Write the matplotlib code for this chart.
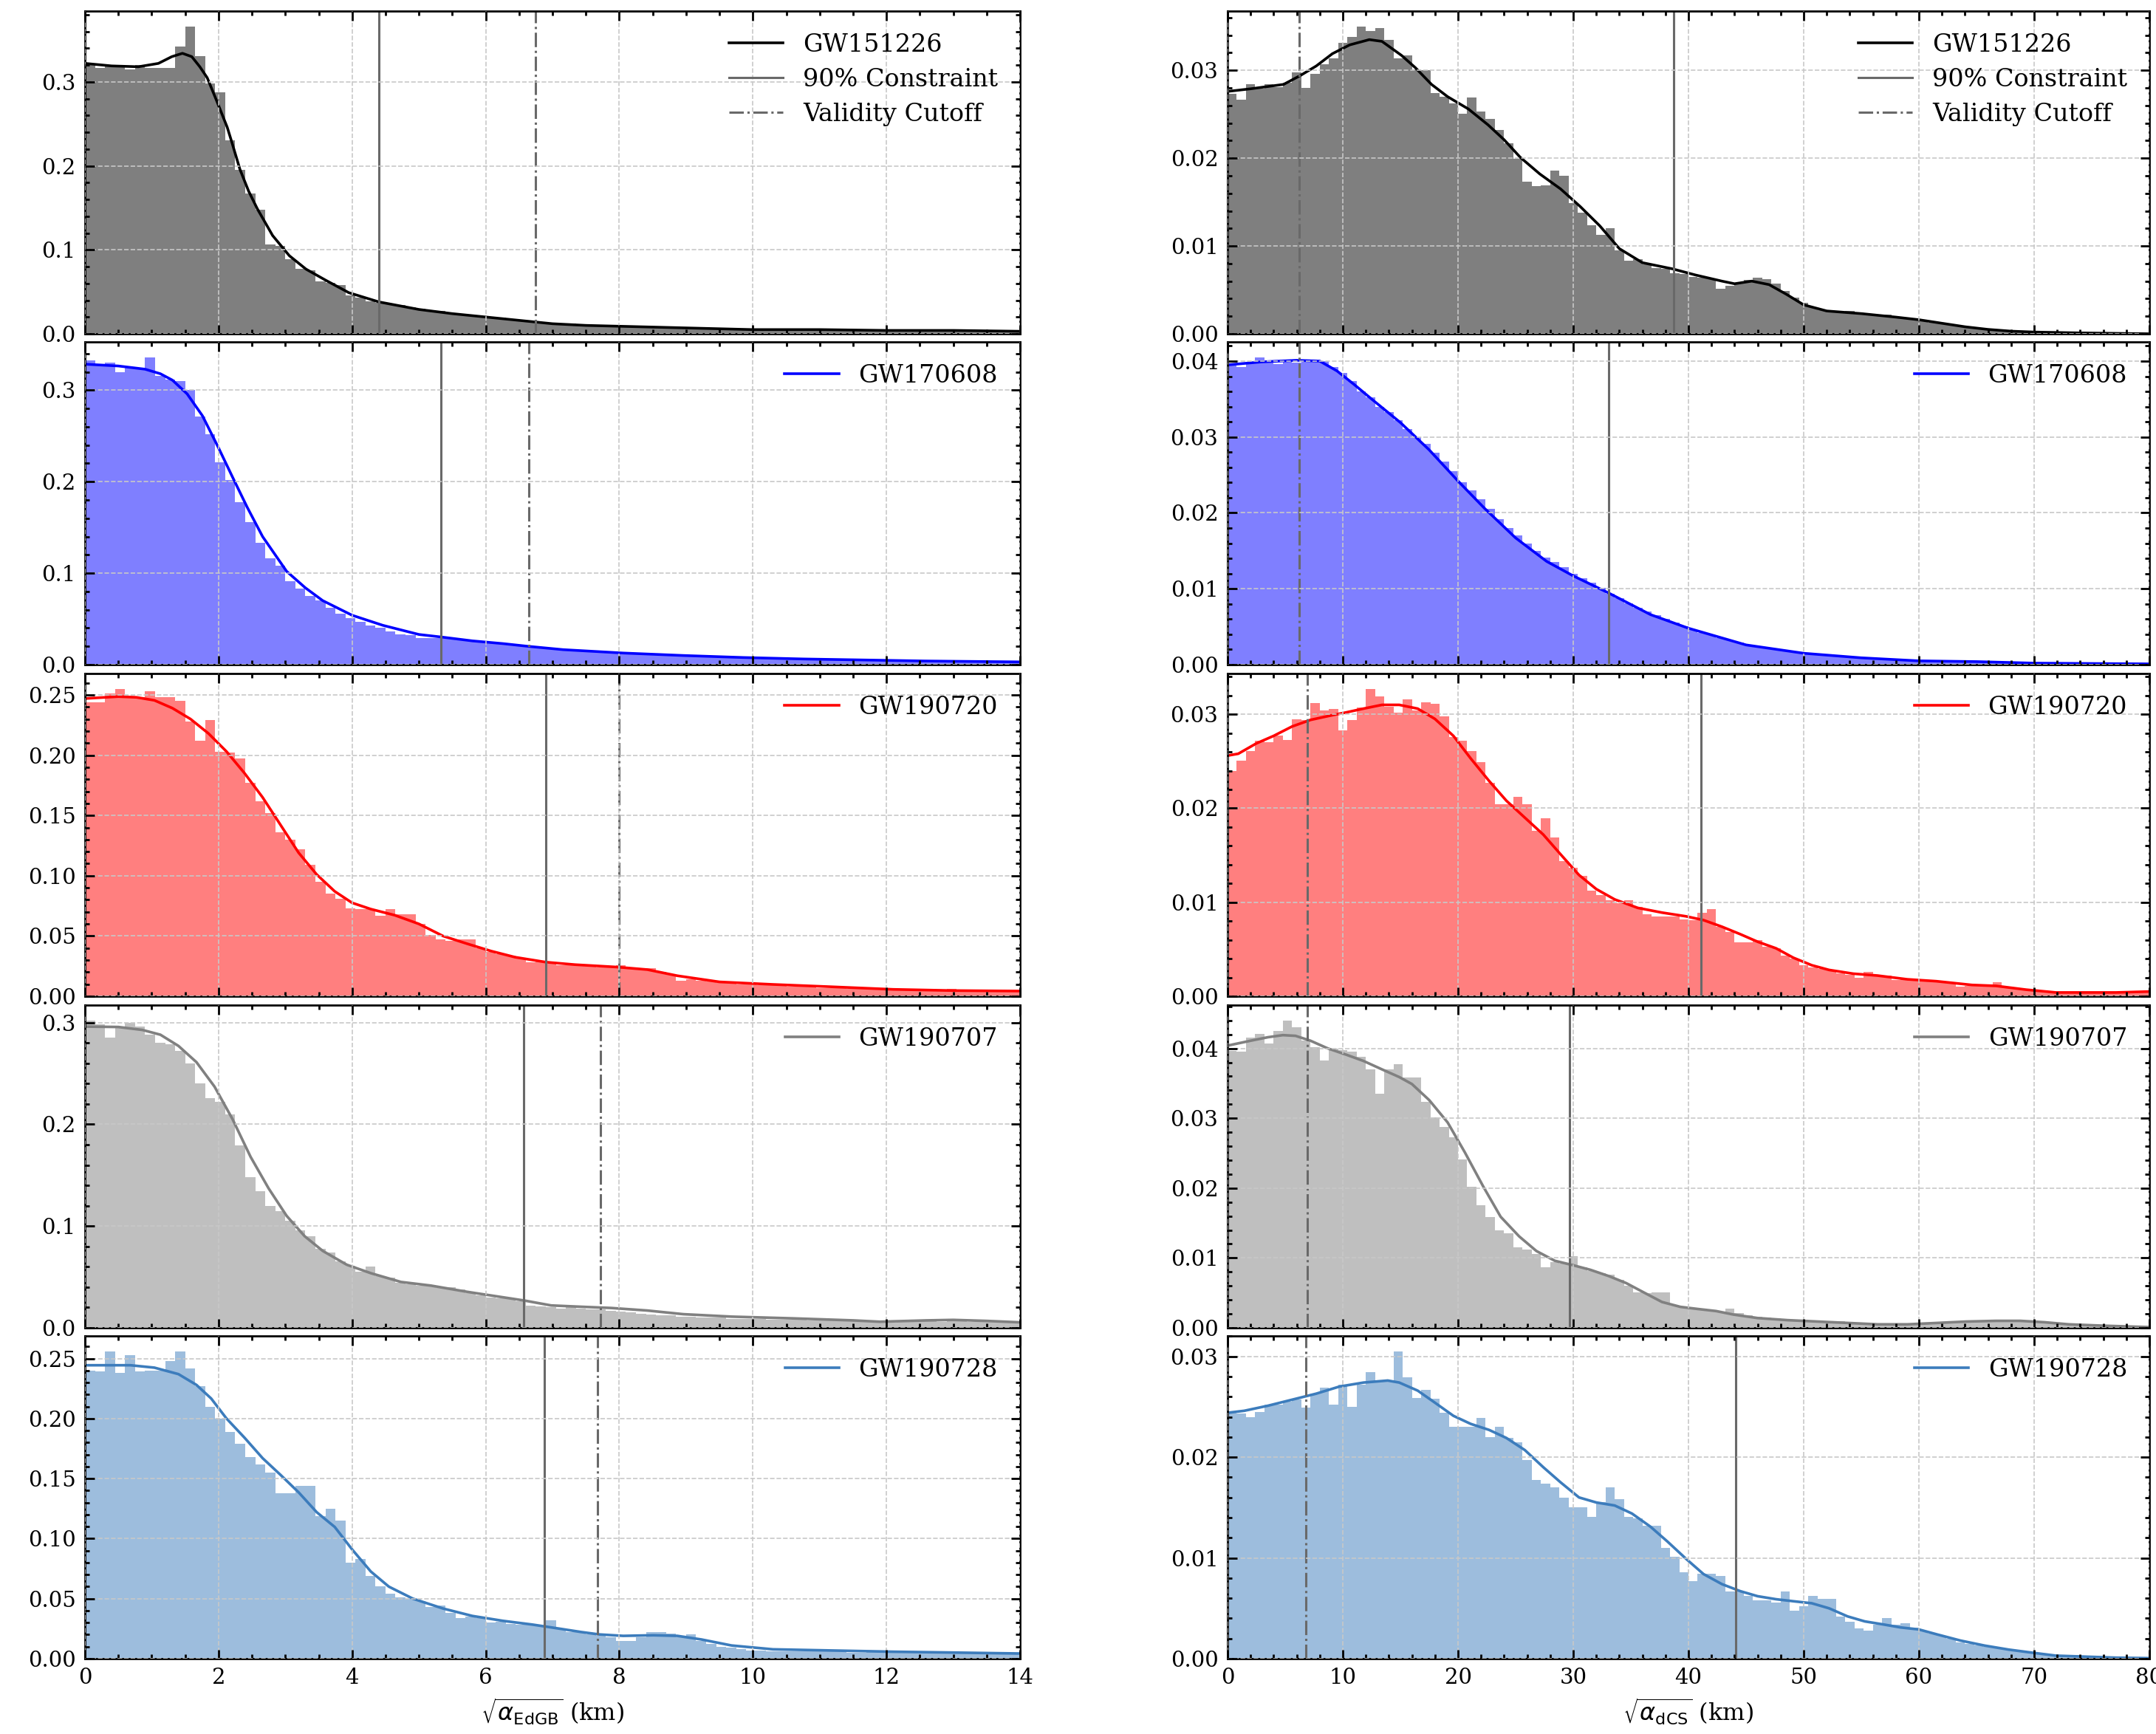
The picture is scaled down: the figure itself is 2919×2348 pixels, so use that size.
import numpy as np
import matplotlib
matplotlib.use("Agg")
import matplotlib.pyplot as plt
from matplotlib.ticker import MultipleLocator, AutoMinorLocator

plt.rcParams['font.family'] = ['DejaVu Serif']
plt.rcParams['mathtext.fontset'] = 'dejavusans'
plt.rcParams['axes.linewidth'] = 1.0

# ---------------- data ----------------
events = ['GW151226', 'GW170608', 'GW190720', 'GW190707', 'GW190728']
line_colors = ['black', 'blue', 'red', 'gray', '#3c7cbc']

edgb_bin_width = 0.15
dcs_bin_width = 0.8

# EdGB histograms (density per bin of width 0.15 km, starting at 0)
edgb_hist_GW151226 = [
    0.321, 0.317, 0.320, 0.320, 0.315, 0.320, 0.317, 0.317, 0.317,
    0.342, 0.366, 0.331, 0.298, 0.288, 0.230, 0.195, 0.167, 0.148, 0.106, 0.105, 0.089,
    0.077, 0.076, 0.062, 0.061, 0.058, 0.046, 0.043, 0.039, 0.037,
    0.035, 0.034, 0.032, 0.030, 0.028, 0.027, 0.025, 0.024, 0.022, 0.021,
    0.020, 0.019, 0.017, 0.016, 0.015, 0.014, 0.013, 0.012, 0.012, 0.011,
    0.010, 0.010, 0.009, 0.009, 0.009, 0.008, 0.008, 0.008, 0.007, 0.007,
    0.007, 0.006, 0.006, 0.006, 0.006, 0.006, 0.005, 0.005, 0.005, 0.005,
    0.005, 0.005, 0.005, 0.004, 0.004, 0.004, 0.004, 0.004, 0.004, 0.004,
    0.004, 0.004, 0.004, 0.003, 0.004, 0.003, 0.003, 0.003, 0.003, 0.003, 0.003, 0.003, 0.003, 0.003]
edgb_hist_GW170608 = [
    0.333, 0.328, 0.330, 0.320, 0.325, 0.323, 0.336, 0.316, 0.312, 0.310, 0.300, 0.271,
    0.252, 0.221, 0.202, 0.178, 0.156, 0.133, 0.116, 0.108, 0.091, 0.083, 0.075, 0.070,
    0.062, 0.056, 0.051, 0.047, 0.043, 0.040, 0.036, 0.033, 0.032, 0.029, 0.029, 0.029,
    0.028, 0.027, 0.026, 0.025,
    0.024, 0.023, 0.022, 0.021, 0.020, 0.019, 0.018, 0.017, 0.016, 0.016,
    0.015, 0.014, 0.014, 0.013, 0.013, 0.012, 0.012, 0.011, 0.011, 0.010,
    0.010, 0.010, 0.009, 0.009, 0.009, 0.008, 0.008, 0.008, 0.007, 0.007,
    0.007, 0.007, 0.006, 0.006, 0.006, 0.006, 0.005, 0.005, 0.005, 0.005,
    0.005, 0.004, 0.004, 0.004, 0.004, 0.004,
    0.004, 0.004, 0.003, 0.003, 0.003, 0.003, 0.003, 0.003]
edgb_hist_GW190720 = [
    0.244, 0.244, 0.251, 0.255, 0.249, 0.248, 0.253, 0.248, 0.248, 0.245,
    0.228, 0.212, 0.229, 0.203, 0.202, 0.197, 0.177, 0.162, 0.152, 0.136,
    0.130, 0.122, 0.109, 0.095, 0.085, 0.081, 0.073, 0.072, 0.072, 0.067,
    0.072, 0.068, 0.068, 0.060, 0.051, 0.047, 0.046, 0.047, 0.047, 0.040,
    0.037, 0.035, 0.034, 0.032, 0.028, 0.029, 0.027, 0.026, 0.026, 0.026,
    0.025, 0.024, 0.024, 0.026, 0.024, 0.022, 0.023, 0.020, 0.018, 0.013,
    0.014, 0.013, 0.012, 0.011, 0.011, 0.010, 0.010, 0.009, 0.009, 0.009,
    0.008, 0.008, 0.008, 0.007, 0.007, 0.007, 0.006, 0.006, 0.006, 0.006,
    0.005, 0.005, 0.005, 0.005, 0.005, 0.005, 0.006, 0.004, 0.004, 0.004, 0.004, 0.004, 0.004, 0.004]
edgb_hist_GW190707 = [
    0.302, 0.298, 0.285, 0.296, 0.300, 0.296, 0.288, 0.280, 0.279, 0.272,
    0.260, 0.240, 0.226, 0.222, 0.210, 0.179, 0.148, 0.134, 0.120, 0.115,
    0.105, 0.096, 0.090, 0.078, 0.074, 0.065, 0.061, 0.055, 0.060, 0.051,
    0.049, 0.044, 0.043, 0.041, 0.041, 0.039, 0.040, 0.038, 0.034, 0.032,
    0.030, 0.029, 0.028, 0.026, 0.022, 0.021, 0.020, 0.019, 0.020, 0.019,
    0.018, 0.018, 0.017, 0.016, 0.015, 0.014, 0.013, 0.012, 0.012, 0.011,
    0.011, 0.010, 0.010, 0.010, 0.009, 0.009, 0.009, 0.009, 0.008, 0.008,
    0.008, 0.008, 0.007, 0.007, 0.007, 0.007, 0.007, 0.006, 0.006, 0.006,
    0.005, 0.006, 0.006, 0.007, 0.007, 0.006, 0.007, 0.007, 0.006, 0.006, 0.006, 0.005, 0.005, 0.005]
edgb_hist_GW190728 = [
    0.240, 0.239, 0.256, 0.238, 0.253, 0.239, 0.240, 0.240, 0.248, 0.256,
    0.242, 0.227, 0.210, 0.200, 0.189, 0.179, 0.168, 0.162, 0.155, 0.138,
    0.138, 0.144, 0.144, 0.119, 0.125, 0.115, 0.080, 0.083, 0.069, 0.060,
    0.054, 0.051, 0.050, 0.048, 0.043, 0.044, 0.038, 0.034, 0.035, 0.034,
    0.030, 0.031, 0.029, 0.028, 0.028, 0.027, 0.032, 0.025, 0.022, 0.022,
    0.020, 0.019, 0.018, 0.015, 0.015, 0.018, 0.022, 0.022, 0.021, 0.018,
    0.020, 0.015, 0.012, 0.010, 0.009, 0.008, 0.007, 0.007, 0.006, 0.006,
    0.006, 0.006, 0.006, 0.006, 0.006, 0.006, 0.005, 0.005, 0.006, 0.006,
    0.005, 0.005, 0.005, 0.005, 0.005, 0.005, 0.005, 0.004, 0.004, 0.004, 0.004, 0.004, 0.004, 0.004]

# dCS histograms (density per bin of width 0.8 km, starting at 0)
dcs_hist_GW151226 = [
    0.0273, 0.0267, 0.0284, 0.0279, 0.0284, 0.0281, 0.0286, 0.0298, 0.0280, 0.0296,
    0.0307, 0.0314, 0.0331, 0.0338, 0.0350, 0.0345, 0.0348, 0.0335, 0.0314, 0.0317,
    0.0301, 0.0300, 0.0274, 0.0270, 0.0262, 0.0251, 0.0269, 0.0253, 0.0245, 0.0232,
    0.0217, 0.0199, 0.0173, 0.0168, 0.0169, 0.0186, 0.0180, 0.0149, 0.0138, 0.0124,
    0.0113, 0.0120, 0.0095, 0.0083, 0.0085, 0.0079, 0.0075, 0.0074, 0.0069, 0.0068,
    0.0065, 0.0064, 0.0062, 0.0051, 0.0055, 0.0058, 0.0061, 0.0064, 0.0062, 0.0057,
    0.0049, 0.0041, 0.0035, 0.0030, 0.0027, 0.0024, 0.0025, 0.0026, 0.0024, 0.0023,
    0.0021, 0.0022, 0.0019, 0.0018, 0.0016, 0.0015, 0.0013, 0.0012, 0.0010, 0.0009,
    0.0008, 0.0006, 0.0005, 0.0004, 0.0004, 0.0003, 0.0003, 0.0002, 0.0002, 0.0002,
    0.0001, 0.0001, 0.0001, 0.0001, 0.0001, 0.0001, 0.0001, 0.0001, 0.0001, 0.0001]
dcs_hist_GW170608 = [
    0.0395, 0.0392, 0.0398, 0.0405, 0.0400, 0.0396, 0.0402, 0.0398, 0.0399, 0.0401,
    0.0400, 0.0392, 0.0384, 0.0374, 0.0360, 0.0352, 0.0340, 0.0333, 0.0322, 0.0310,
    0.0300, 0.0291, 0.0279, 0.0268, 0.0255, 0.0240, 0.0230, 0.0218, 0.0205, 0.0192,
    0.0180, 0.0170, 0.0160, 0.0150, 0.0141, 0.0135, 0.0128, 0.0120, 0.0114, 0.0108,
    0.0101, 0.0093, 0.0088, 0.0081, 0.0075, 0.0070, 0.0065, 0.0060, 0.0055, 0.0051,
    0.0046, 0.0042, 0.0039, 0.0035, 0.0032, 0.0029, 0.0026, 0.0024, 0.0022, 0.0020,
    0.0018, 0.0017, 0.0015, 0.0014, 0.0013, 0.0012, 0.0011, 0.0010, 0.0010, 0.0009,
    0.0008, 0.0008, 0.0007, 0.0007, 0.0006, 0.0006, 0.0005, 0.0005, 0.0005, 0.0004,
    0.0004, 0.0004, 0.0003, 0.0003, 0.0003, 0.0003, 0.0002, 0.0002, 0.0002, 0.0002,
    0.0002, 0.0002, 0.0001, 0.0001, 0.0001, 0.0001, 0.0001, 0.0001, 0.0001, 0.0001]
dcs_hist_GW190720 = [
    0.0240, 0.0251, 0.0261, 0.0272, 0.0270, 0.0277, 0.0273, 0.0295, 0.0294, 0.0312,
    0.0304, 0.0306, 0.0283, 0.0294, 0.0307, 0.0327, 0.0319, 0.0308, 0.0302, 0.0316,
    0.0304, 0.0313, 0.0311, 0.0298, 0.0276, 0.0272, 0.0261, 0.0249, 0.0227, 0.0204,
    0.0204, 0.0212, 0.0204, 0.0176, 0.0189, 0.0169, 0.0144, 0.0137, 0.0128, 0.0112,
    0.0108, 0.0102, 0.0099, 0.0102, 0.0095, 0.0087, 0.0085, 0.0085, 0.0085, 0.0082,
    0.0081, 0.0089, 0.0093, 0.0074, 0.0068, 0.0057, 0.0057, 0.0060, 0.0053, 0.0051,
    0.0043, 0.0040, 0.0033, 0.0031, 0.0029, 0.0028, 0.0024, 0.0023, 0.0020, 0.0026,
    0.0023, 0.0022, 0.0017, 0.0018, 0.0018, 0.0016, 0.0016, 0.0015, 0.0014, 0.0010,
    0.0011, 0.0012, 0.0011, 0.0015, 0.0010, 0.0008, 0.0008, 0.0007, 0.0006, 0.0004,
    0.0003, 0.0003, 0.0003, 0.0003, 0.0003, 0.0004, 0.0004, 0.0004, 0.0005, 0.0005]
dcs_hist_GW190707 = [
    0.0396, 0.0395, 0.0416, 0.0421, 0.0407, 0.0425, 0.0440, 0.0430, 0.0411, 0.0402,
    0.0383, 0.0400, 0.0398, 0.0395, 0.0388, 0.0370, 0.0335, 0.0370, 0.0377, 0.0358,
    0.0358, 0.0324, 0.0301, 0.0288, 0.0273, 0.0241, 0.0202, 0.0175, 0.0159, 0.0140,
    0.0135, 0.0115, 0.0112, 0.0106, 0.0087, 0.0094, 0.0092, 0.0103, 0.0087, 0.0081,
    0.0078, 0.0076, 0.0069, 0.0060, 0.0051, 0.0050, 0.0051, 0.0051, 0.0032, 0.0030,
    0.0027, 0.0025, 0.0024, 0.0023, 0.0028, 0.0021, 0.0018, 0.0016, 0.0015, 0.0014,
    0.0013, 0.0012, 0.0012, 0.0011, 0.0010, 0.0010, 0.0009, 0.0008, 0.0007, 0.0006,
    0.0005, 0.0005, 0.0005, 0.0006, 0.0006, 0.0007, 0.0007, 0.0008, 0.0008, 0.0009,
    0.0009, 0.0009, 0.0010, 0.0011, 0.0010, 0.0011, 0.0009, 0.0008, 0.0007, 0.0006,
    0.0005, 0.0004, 0.0003, 0.0003, 0.0002, 0.0002, 0.0001, 0.0001, 0.0001, 0.0001]
dcs_hist_GW190728 = [
    0.0244, 0.0243, 0.0240, 0.0245, 0.0252, 0.0252, 0.0255, 0.0257, 0.0249, 0.0263,
    0.0269, 0.0252, 0.0272, 0.0250, 0.0272, 0.0284, 0.0276, 0.0276, 0.0305, 0.0279,
    0.0259, 0.0267, 0.0258, 0.0244, 0.0230, 0.0230, 0.0230, 0.0239, 0.0220, 0.0230,
    0.0219, 0.0215, 0.0197, 0.0177, 0.0174, 0.0170, 0.0160, 0.0150, 0.0150, 0.0141,
    0.0155, 0.0170, 0.0158, 0.0141, 0.0139, 0.0132, 0.0132, 0.0110, 0.0101, 0.0086,
    0.0077, 0.0084, 0.0084, 0.0082, 0.0067, 0.0067, 0.0062, 0.0058, 0.0058, 0.0056,
    0.0067, 0.0048, 0.0052, 0.0062, 0.0059, 0.0059, 0.0042, 0.0037, 0.0030, 0.0028,
    0.0034, 0.0040, 0.0034, 0.0035, 0.0031, 0.0028, 0.0025, 0.0023, 0.0020, 0.0016,
    0.0015, 0.0013, 0.0012, 0.0010, 0.0009, 0.0008, 0.0007, 0.0005, 0.0004, 0.0004,
    0.0003, 0.0003, 0.0002, 0.0002, 0.0001, 0.0001, 0.0001, 0.0000, 0.0000, 0.0000]

# KDE curves (x in km, density)
edgb_kde_x_GW151226 = [0, 0.4, 0.8, 1.1, 1.3, 1.46, 1.6, 1.72, 1.83, 1.98, 2.05, 2.13, 2.2, 2.32, 2.45, 2.58,
                       2.81, 3.06, 3.31, 3.6, 3.95, 4.4, 5, 5.5, 6, 6.5, 7, 7.5, 8, 9, 10, 11, 12, 13, 14]
edgb_kde_y_GW151226 = [0.322, 0.319, 0.318, 0.322, 0.330, 0.334, 0.330, 0.318, 0.305, 0.276, 0.262, 0.246, 0.228,
                       0.196, 0.170, 0.149, 0.117, 0.093, 0.077, 0.064, 0.049, 0.038, 0.029, 0.024, 0.020, 0.016,
                       0.012, 0.010, 0.009, 0.007, 0.005, 0.005, 0.004, 0.004, 0.003]
edgb_kde_x_GW170608 = [0, 0.5, 0.9, 1.13, 1.31, 1.53, 1.76, 2.0, 2.21, 2.43, 2.66, 3.02, 3.3, 3.56, 4.0, 4.46,
                       5.0, 5.36, 5.8, 6.26, 6.64, 7.16, 8.06, 8.96, 9.86, 10.76, 11.67, 12.57, 14]
edgb_kde_y_GW170608 = [0.3285, 0.3265, 0.323, 0.318, 0.311, 0.296, 0.272, 0.237, 0.205, 0.172, 0.140, 0.102,
                       0.084, 0.070, 0.054, 0.043, 0.033, 0.030, 0.026, 0.023, 0.020, 0.0164, 0.0127, 0.010,
                       0.0078, 0.0062, 0.0051, 0.004, 0.003]
edgb_kde_x_GW190720 = [0, 0.5, 0.77, 1.04, 1.31, 1.58, 1.85, 2.12, 2.39, 2.66, 2.93, 3.2, 3.47, 3.74, 4.0, 4.28,
                       4.64, 5.0, 5.36, 5.72, 6.08, 6.44, 6.9, 7.34, 7.97, 8.42, 8.87, 9.5, 10.3, 11.2, 12.1, 13.0, 14]
edgb_kde_y_GW190720 = [0.247, 0.2486, 0.248, 0.2455, 0.239, 0.230, 0.218, 0.203, 0.185, 0.165, 0.142, 0.119,
                       0.101, 0.087, 0.0775, 0.0723, 0.0672, 0.060, 0.050, 0.0436, 0.0375, 0.0324, 0.0283,
                       0.0262, 0.0242, 0.0221, 0.017, 0.0119, 0.0098, 0.0078, 0.0057, 0.0047, 0.0043]
edgb_kde_x_GW190707 = [0, 0.5, 0.86, 1.13, 1.4, 1.67, 1.94, 2.21, 2.48, 2.75, 3.02, 3.29, 3.56, 3.92, 4.28, 4.73,
                       5.18, 5.72, 6.26, 6.58, 6.98, 7.43, 7.88, 8.42, 8.96, 9.68, 10.6, 11.5, 11.9, 12.6, 13.0, 13.5, 14]
edgb_kde_y_GW190707 = [0.296, 0.2956, 0.2927, 0.288, 0.277, 0.261, 0.237, 0.205, 0.168, 0.137, 0.110, 0.090,
                       0.0756, 0.062, 0.0537, 0.0451, 0.0415, 0.0354, 0.030, 0.0268, 0.022, 0.0207, 0.0195,
                       0.017, 0.0134, 0.011, 0.0093, 0.0073, 0.006, 0.0073, 0.0078, 0.0068, 0.0054]
edgb_kde_x_GW190728 = [0, 0.68, 1.04, 1.4, 1.67, 1.89, 2.12, 2.39, 2.66, 2.93, 3.2, 3.47, 3.74, 4.0, 4.28, 4.55,
                       4.91, 5.36, 5.8, 6.26, 6.7, 7.07, 7.43, 7.7, 8.06, 8.51, 8.87, 9.23, 9.68, 10.3, 11.2,
                       12.1, 13.0, 14]
edgb_kde_y_GW190728 = [0.2444, 0.2444, 0.2424, 0.237, 0.228, 0.2167, 0.200, 0.184, 0.167, 0.153, 0.1385, 0.122,
                       0.1097, 0.091, 0.0726, 0.060, 0.050, 0.0418, 0.0356, 0.0315, 0.0284, 0.0253, 0.0222,
                       0.0202, 0.019, 0.0195, 0.019, 0.016, 0.011, 0.0078, 0.0068, 0.0058, 0.0051, 0.0043]

dcs_kde_x_GW151226 = [0, 2, 4.86, 6.3, 7.7, 9.1, 10.6, 12.3, 13.4, 15.1, 16.3, 17.7, 19.1, 20.9, 22.6, 24, 25.4,
                      27.1, 28.9, 30.6, 32.3, 34, 36, 38.6, 40.6, 42.9, 44, 45.5, 47, 48.5, 50, 52, 55, 58, 60,
                      62, 64, 66, 68, 70, 74, 80]
dcs_kde_y_GW151226 = [0.0276, 0.0279, 0.0284, 0.0294, 0.0305, 0.0319, 0.0329, 0.0335, 0.0333, 0.0317, 0.0303,
                      0.0284, 0.0270, 0.0256, 0.0238, 0.0221, 0.0201, 0.0182, 0.0165, 0.0145, 0.0123, 0.0097,
                      0.0081, 0.0074, 0.0067, 0.0060, 0.0057, 0.0060, 0.0056, 0.0045, 0.0033, 0.0026, 0.0023,
                      0.0019, 0.0016, 0.0012, 0.0008, 0.0005, 0.0003, 0.0002, 0.0001, 0.0]
dcs_kde_x_GW170608 = [0, 3, 6, 8, 9.5, 11, 12.5, 15, 17.5, 20, 22.3, 25, 27.7, 30, 33, 36.7, 40, 45, 50, 55, 60,
                      65, 70, 80]
dcs_kde_y_GW170608 = [0.0395, 0.0399, 0.0401, 0.0400, 0.0387, 0.0369, 0.0350, 0.0319, 0.0283, 0.0242, 0.0206,
                      0.0167, 0.0136, 0.0117, 0.0095, 0.0066, 0.0048, 0.0026, 0.0015, 0.0009, 0.0005, 0.0004,
                      0.0002, 0.0001]
dcs_kde_x_GW190720 = [0, 0.93, 2.5, 4.0, 5.6, 7.2, 8.7, 10.3, 11.8, 13.4, 14.9, 16.5, 18.0, 19.6, 21.1, 22.7, 24.2,
                      25.8, 27.4, 28.9, 30.5, 32, 33.6, 35.6, 37.7, 39.8, 41.3, 42.9, 44.5, 46, 47.6, 49.1, 50.7,
                      52.2, 54.3, 56.4, 59, 61.5, 64.6, 66.7, 69.3, 71.9, 74.5, 77.1, 80]
dcs_kde_y_GW190720 = [0.0256, 0.0258, 0.0269, 0.0277, 0.0287, 0.0294, 0.0298, 0.0302, 0.0306, 0.0310, 0.0310,
                      0.0306, 0.0295, 0.0277, 0.0253, 0.0229, 0.0208, 0.0190, 0.0172, 0.0151, 0.0129, 0.0114,
                      0.0103, 0.0094, 0.0089, 0.0085, 0.0081, 0.0074, 0.0066, 0.0058, 0.0051, 0.0041, 0.0033,
                      0.0028, 0.0024, 0.0022, 0.0018, 0.0016, 0.0012, 0.0011, 0.0007, 0.0004, 0.0004, 0.0004, 0.0005]
dcs_kde_x_GW190707 = [0, 2, 3.5, 4.8, 5.9, 7.2, 8.7, 10.3, 11.8, 13.4, 14.9, 16, 17.5, 19.1, 20.6, 22.2, 23.7,
                      25.3, 26.8, 28.4, 29.9, 31.5, 33.1, 34.6, 36.2, 37.7, 39.3, 40.8, 42.4, 43.9, 46, 48.6,
                      51.2, 53.8, 56.4, 59, 61.6, 64.1, 66.7, 68.8, 70.9, 73, 76.1, 80]
dcs_kde_y_GW190707 = [0.0404, 0.0411, 0.0416, 0.0419, 0.0418, 0.0411, 0.0400, 0.0391, 0.0382, 0.0370, 0.0359,
                      0.0349, 0.0326, 0.0294, 0.0251, 0.0202, 0.0159, 0.0131, 0.0110, 0.0096, 0.0090, 0.0083,
                      0.0074, 0.0064, 0.0050, 0.0037, 0.0030, 0.0027, 0.0024, 0.0019, 0.0014, 0.0011, 0.0009,
                      0.0007, 0.0005, 0.0005, 0.0007, 0.0009, 0.0010, 0.0010, 0.0008, 0.0005, 0.0003, 0.0001]
dcs_kde_x_GW190728 = [0, 1.45, 3.5, 5.6, 7.7, 9.7, 11.8, 13.9, 14.9, 16.5, 18, 19.6, 21.1, 22.7, 24.2, 25.8, 27.4,
                      28.9, 30.5, 32, 33.6, 35.1, 36.7, 38.2, 39.8, 41.3, 42.9, 44.5, 46, 47.6, 49.1, 50.7, 52.2,
                      53.8, 55.3, 56.9, 58.4, 60, 61.6, 63.6, 65.7, 67.8, 69.8, 71.9, 74.5, 77.1, 80]
dcs_kde_y_GW190728 = [0.0244, 0.0246, 0.0251, 0.0257, 0.0263, 0.0270, 0.0274, 0.0276, 0.0274, 0.0266, 0.0254,
                      0.0241, 0.0233, 0.0227, 0.0219, 0.0207, 0.0190, 0.0175, 0.0160, 0.0155, 0.0152, 0.0144,
                      0.0131, 0.0116, 0.0099, 0.0084, 0.0074, 0.0067, 0.0062, 0.0059, 0.0057, 0.0055, 0.0050,
                      0.0042, 0.0037, 0.0034, 0.0031, 0.0029, 0.0024, 0.0018, 0.0013, 0.0009, 0.0006, 0.0003,
                      0.0002, 0.0001, 0.00005]

# 90% constraints and validity cutoffs (km)
edgb_constraint = [4.4, 5.33, 6.90, 6.57, 6.88]
edgb_cutoff = [6.75, 6.65, 7.99, 7.72, 7.68]
dcs_constraint = [38.7, 33.1, 41.1, 29.7, 44.1]
dcs_cutoff = [6.2, 6.2, 6.9, 6.9, 6.8]

edgb_hists = [edgb_hist_GW151226, edgb_hist_GW170608, edgb_hist_GW190720, edgb_hist_GW190707, edgb_hist_GW190728]
dcs_hists = [dcs_hist_GW151226, dcs_hist_GW170608, dcs_hist_GW190720, dcs_hist_GW190707, dcs_hist_GW190728]
edgb_kdes = [(edgb_kde_x_GW151226, edgb_kde_y_GW151226), (edgb_kde_x_GW170608, edgb_kde_y_GW170608),
             (edgb_kde_x_GW190720, edgb_kde_y_GW190720), (edgb_kde_x_GW190707, edgb_kde_y_GW190707),
             (edgb_kde_x_GW190728, edgb_kde_y_GW190728)]
dcs_kdes = [(dcs_kde_x_GW151226, dcs_kde_y_GW151226), (dcs_kde_x_GW170608, dcs_kde_y_GW170608),
            (dcs_kde_x_GW190720, dcs_kde_y_GW190720), (dcs_kde_x_GW190707, dcs_kde_y_GW190707),
            (dcs_kde_x_GW190728, dcs_kde_y_GW190728)]

edgb_ymajor = [0.1, 0.1, 0.05, 0.1, 0.05]
dcs_ymajor = [0.01, 0.01, 0.01, 0.01, 0.01]

# ---------------- figure ----------------
W, H = 2919, 2348
fig = plt.figure(figsize=(W / 200, H / 200), dpi=200)

row_tops = [15, 463, 912, 1361, 1809]
row_h = 437
cols = [(115, 1266), (1662, 1248)]


def style_axis(ax, xmax, xmajor, xminor, ymajor, show_xlabels):
    ax.set_xlim(0, xmax)
    ax.xaxis.set_major_locator(MultipleLocator(xmajor))
    ax.xaxis.set_minor_locator(MultipleLocator(xminor))
    ax.yaxis.set_major_locator(MultipleLocator(ymajor))
    ax.yaxis.set_minor_locator(AutoMinorLocator(5))
    ax.tick_params(which='both', direction='in', top=True, right=True, width=1.0)
    ax.tick_params(which='major', length=4.5, labelsize=10.5, pad=4.5)
    ax.tick_params(which='minor', length=2.3)
    ax.grid(True, which='major', linestyle='--', color='#c8c8c8', linewidth=0.6)
    ax.set_axisbelow(False)
    if not show_xlabels:
        ax.tick_params(labelbottom=False)


for col, (x0, w) in enumerate(cols):
    for r in range(5):
        ax = fig.add_axes([x0 / W, 1 - (row_tops[r] + row_h) / H, w / W, row_h / H])
        c = line_colors[r]
        if col == 0:
            hist = edgb_hists[r]
            bw = edgb_bin_width
            kx, ky = edgb_kdes[r]
            cons, cut = edgb_constraint[r], edgb_cutoff[r]
            xmax, xmaj, xmin_ = 14, 2, 0.5
            ymaj = edgb_ymajor[r]
        else:
            hist = dcs_hists[r]
            bw = dcs_bin_width
            kx, ky = dcs_kdes[r]
            cons, cut = dcs_constraint[r], dcs_cutoff[r]
            xmax, xmaj, xmin_ = 80, 10, 2
            ymaj = dcs_ymajor[r]
        edges = np.arange(len(hist) + 1) * bw
        ax.stairs(hist, edges, fill=True, color=c, alpha=0.5, linewidth=0)
        ax.plot(kx, ky, color=c, lw=1.3, label=events[r])
        ax.axvline(cons, color='dimgray', lw=1.1, ls='-', label='90% Constraint')
        ax.axvline(cut, color='dimgray', lw=1.1, ls='-.', label='Validity Cutoff')
        top = 1.05 * max(max(hist), max(ky))
        ax.set_ylim(0, top)
        style_axis(ax, xmax, xmaj, xmin_, ymaj, r == 4)
        handles, labels = ax.get_legend_handles_labels()
        if r != 0:
            handles, labels = handles[:1], labels[:1]
        ax.legend(handles, labels, loc='upper right', frameon=False, fontsize=12,
                  handlelength=2.2, labelspacing=0.45)
        if r == 4:
            if col == 0:
                ax.set_xlabel(r'$\sqrt{\alpha_{\rm EdGB}}$ (km)', fontsize=11.5, labelpad=4)
            else:
                ax.set_xlabel(r'$\sqrt{\alpha_{\rm dCS}}$ (km)', fontsize=11.5, labelpad=4)

fig.savefig('out.png', dpi=200)
